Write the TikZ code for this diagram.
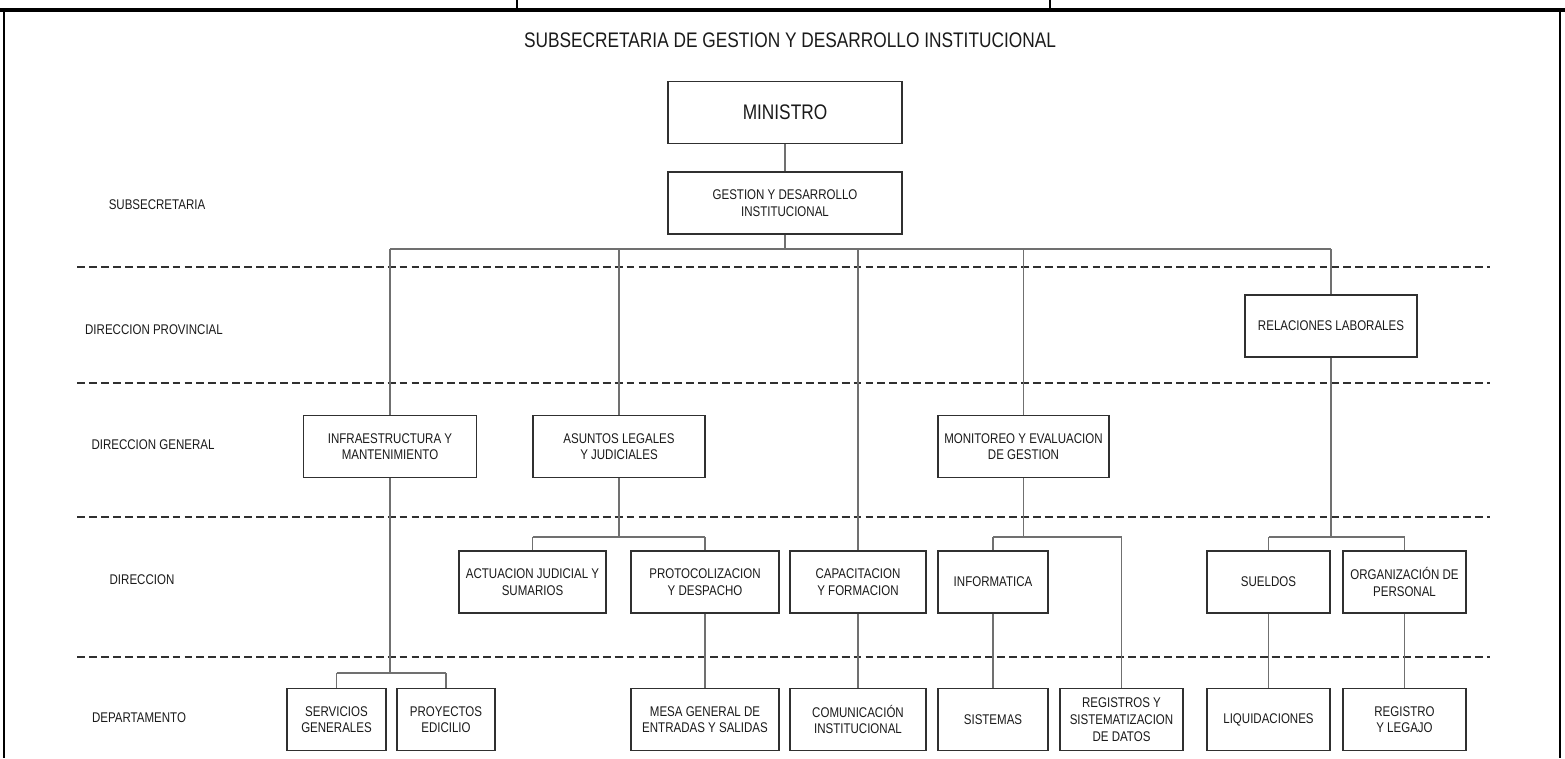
\documentclass[tikz,border=0pt]{standalone}
\usepackage{fontspec}
\setmainfont{Liberation Sans}[FakeStretch=0.82]
\usepackage{tikz}
\usetikzlibrary{calc,positioning}
\definecolor{boxline}{HTML}{303030}
\definecolor{linkline}{HTML}{707070}
\definecolor{txt}{HTML}{1A1A1A}
\tikzset{
  box/.style={draw=boxline, line width=1.1pt, fill=white, align=center, inner sep=1pt,
    minimum height=1.24cm, text=txt, font=\fontsize{8}{9.5}\selectfont},
  wd/.style={minimum width=#1*0.02cm},
  link/.style={draw=linkline, line width=0.6pt},
  rowlabel/.style={text=txt, font=\fontsize{8}{9.5}\selectfont},
  sepline/.style={draw=boxline, line width=1.2pt, dash pattern=on 4.5pt off 2.3pt},
}

\begin{document}
\begin{tikzpicture}[x=0.02cm, y=-0.02cm]
\useasboundingbox (0,0) rectangle (1565,758);
\draw[black, line width=2.2pt] (0,10) -- (1565,10);
\draw[black, line width=0.8pt] (517,0) -- (517,10) (1050,0) -- (1050,10);
\draw[black, line width=1.3pt] (4,10) -- (4,758) (1560,10) -- (1560,758);

\node[text=txt, font=\fontsize{12}{14}\selectfont] (titulo) at (790,40) {SUBSECRETARIA DE GESTION Y DESARROLLO INSTITUCIONAL};

\foreach \yy in {267,383,517,657}
  \draw[sepline] (77,\yy) -- (1490,\yy);

\node[rowlabel] (lsub)  at (157,205) {SUBSECRETARIA};
\node[rowlabel] (lprov) at (154,330) {DIRECCION PROVINCIAL};
\node[rowlabel] (lgen)  at (153,445) {DIRECCION GENERAL};
\node[rowlabel] (ldir)  at (142,580) {DIRECCION};
\node[rowlabel] (ldep)  at (139,718) {DEPARTAMENTO};

\node[box, wd=234, font=\fontsize{12}{14}\selectfont] (ministro) at (785,112.5) {MINISTRO};
\node[box, wd=234] (gestion) at (785,203) {GESTION Y DESARROLLO\\INSTITUCIONAL};

\node[box, wd=172] (relaciones) at (1331,326) {RELACIONES LABORALES};

\node[box, wd=173] (infra)  at (390,446.5)  {INFRAESTRUCTURA Y\\MANTENIMIENTO};
\node[box, wd=172] (asuntos) at (619,446.5) {ASUNTOS LEGALES\\Y JUDICIALES};
\node[box, wd=171] (monitoreo) at (1023.5,446.5) {MONITOREO Y EVALUACION\\DE GESTION};

\node[box, wd=147] (actuacion) at (532.5,582) {ACTUACION JUDICIAL Y\\SUMARIOS};
\node[box, wd=148] (protocolo) at (705,582) {PROTOCOLIZACION\\Y DESPACHO};
\node[box, wd=136] (capacitacion) at (858,582) {CAPACITACION\\Y FORMACION};
\node[box, wd=110] (informatica) at (993,582) {INFORMATICA};
\node[box, wd=123] (sueldos) at (1268.5,582) {SUELDOS};
\node[box, wd=123] (organizacion) at (1404.5,582) {ORGANIZACIÓN DE\\PERSONAL};

\node[box, wd=99]  (servicios) at (336.5,719.5) {SERVICIOS\\GENERALES};
\node[box, wd=98]  (proyectos) at (446,719.5) {PROYECTOS\\EDICILIO};
\node[box, wd=148] (mesa) at (705,719.5) {MESA GENERAL DE\\ENTRADAS Y SALIDAS};
\node[box, wd=136] (comunicacion) at (858,719.5) {COMUNICACIÓN\\INSTITUCIONAL};
\node[box, wd=110] (sistemas) at (993,719.5) {SISTEMAS};
\node[box, wd=123] (registros) at (1121.5,719.5) {REGISTROS Y\\SISTEMATIZACION\\DE DATOS};
\node[box, wd=123] (liquidaciones) at (1268.5,719.5) {LIQUIDACIONES};
\node[box, wd=123] (legajo) at (1404.5,719.5) {REGISTRO\\Y LEGAJO};

\coordinate (bus) at (0,249);
\coordinate (subdir) at (0,537);
\coordinate (subdep) at (0,673);

\draw[link] (ministro) -- (gestion);
\draw[link] (gestion.south) -- (gestion.south |- bus);
\draw[link] (infra.north |- bus) -- (relaciones.north |- bus);
\foreach \n in {infra,asuntos,capacitacion,monitoreo,relaciones}
  \draw[link] (\n.north |- bus) -- (\n.north);

\draw[link] (asuntos.south) -- (asuntos.south |- subdir);
\draw[link] (actuacion.north |- subdir) -- (protocolo.north |- subdir);
\draw[link] (monitoreo.south) -- (monitoreo.south |- subdir);
\draw[link] (informatica.north |- subdir) -- (registros.north |- subdir);
\draw[link] (relaciones.south) -- (relaciones.south |- subdir);
\draw[link] (sueldos.north |- subdir) -- (organizacion.north |- subdir);
\foreach \n in {actuacion,protocolo,informatica,registros,sueldos,organizacion}
  \draw[link] (\n.north |- subdir) -- (\n.north);

\draw[link] (infra.south) -- (infra.south |- subdep);
\draw[link] (servicios.north |- subdep) -- (proyectos.north |- subdep);
\foreach \n in {servicios,proyectos}
  \draw[link] (\n.north |- subdep) -- (\n.north);

\draw[link] (protocolo) -- (mesa);
\draw[link] (capacitacion) -- (comunicacion);
\draw[link] (informatica) -- (sistemas);
\draw[link] (sueldos) -- (liquidaciones);
\draw[link] (organizacion) -- (legajo);
\end{tikzpicture}
\end{document}
